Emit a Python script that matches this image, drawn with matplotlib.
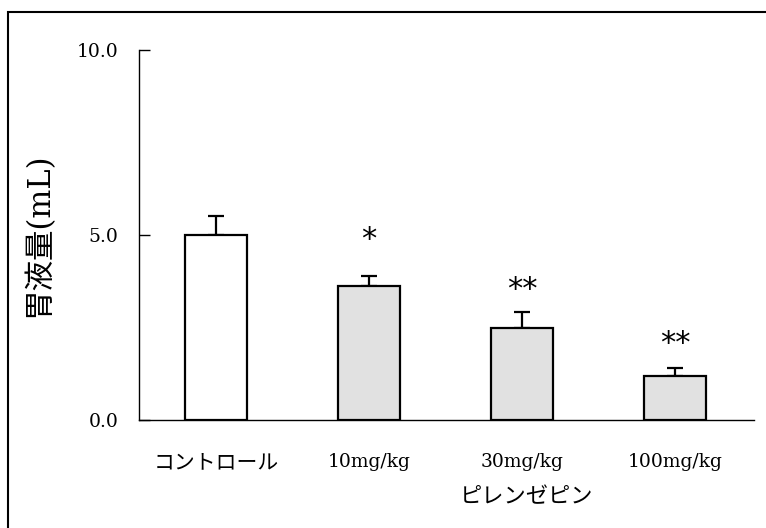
import matplotlib
matplotlib.use("Agg")
import matplotlib.pyplot as plt
from matplotlib.patches import Rectangle

categories = ["コントロール", "10mg/kg", "30mg/kg", "100mg/kg"]
values = [5.0, 3.62, 2.48, 1.18]
errors = [0.52, 0.27, 0.43, 0.22]
stars = ["", "*", "**", "**"]
group_label = "ピレンゼピン"
ylabel = "胃液量(mL)"
yticks = [0.0, 5.0, 10.0]
ytick_labels = ["0.0", "5.0", "10.0"]

FONT = ["DejaVu Serif", "Noto Sans CJK JP"]
plt.rcParams["font.family"] = FONT

fig = plt.figure(figsize=(7.66, 5.28), dpi=100)
ax = fig.add_axes([139/766, 1-420/528, (754-139)/766, (420-50)/528])

colors = ["white", "#e1e1e1", "#e1e1e1", "#e1e1e1"]
x = list(range(len(categories)))
ax.bar(x, values, width=0.405, color=colors, edgecolor="black", linewidth=1.6, zorder=2)
ax.errorbar(x, values, yerr=[[0]*len(errors), errors], fmt="none", ecolor="black",
            elinewidth=1.6, capsize=5.5, capthick=1.6, zorder=1)

star_offset = [0, 0.6, 0.22, 0.27]
for xi, v, e, s, off in zip(x, values, errors, stars, star_offset):
    if s:
        ax.text(xi, v + e + off, s, ha="center", va="bottom", fontsize=22,
                family=["DejaVu Sans"], color="black")

ax.set_xlim(-0.503, 3.516)
ax.set_ylim(0, 10)
ax.set_yticks(yticks)
ax.set_yticklabels(ytick_labels, fontsize=13.5)
ax.tick_params(axis="y", direction="in", length=8, width=1, pad=15)
ax.set_xticks(x)
ax.set_xticklabels(categories, fontsize=13.5)
ax.get_xticklabels()[0].set_fontsize(15)
ax.tick_params(axis="x", length=0, pad=24)
for sp in ["top", "right"]:
    ax.spines[sp].set_visible(False)
ax.spines["left"].set_linewidth(1)
ax.spines["bottom"].set_linewidth(1)
ax.set_ylabel(ylabel, fontsize=22, labelpad=16)

fig.text(527/766, 1-497/528, group_label, ha="center", va="center", fontsize=16)

fig.patches.append(Rectangle((8/766, -0.1), 1.2, 1.1-12/528, transform=fig.transFigure,
                             fill=False, edgecolor="black", linewidth=1.5))

fig.savefig("out.png", dpi=100)
